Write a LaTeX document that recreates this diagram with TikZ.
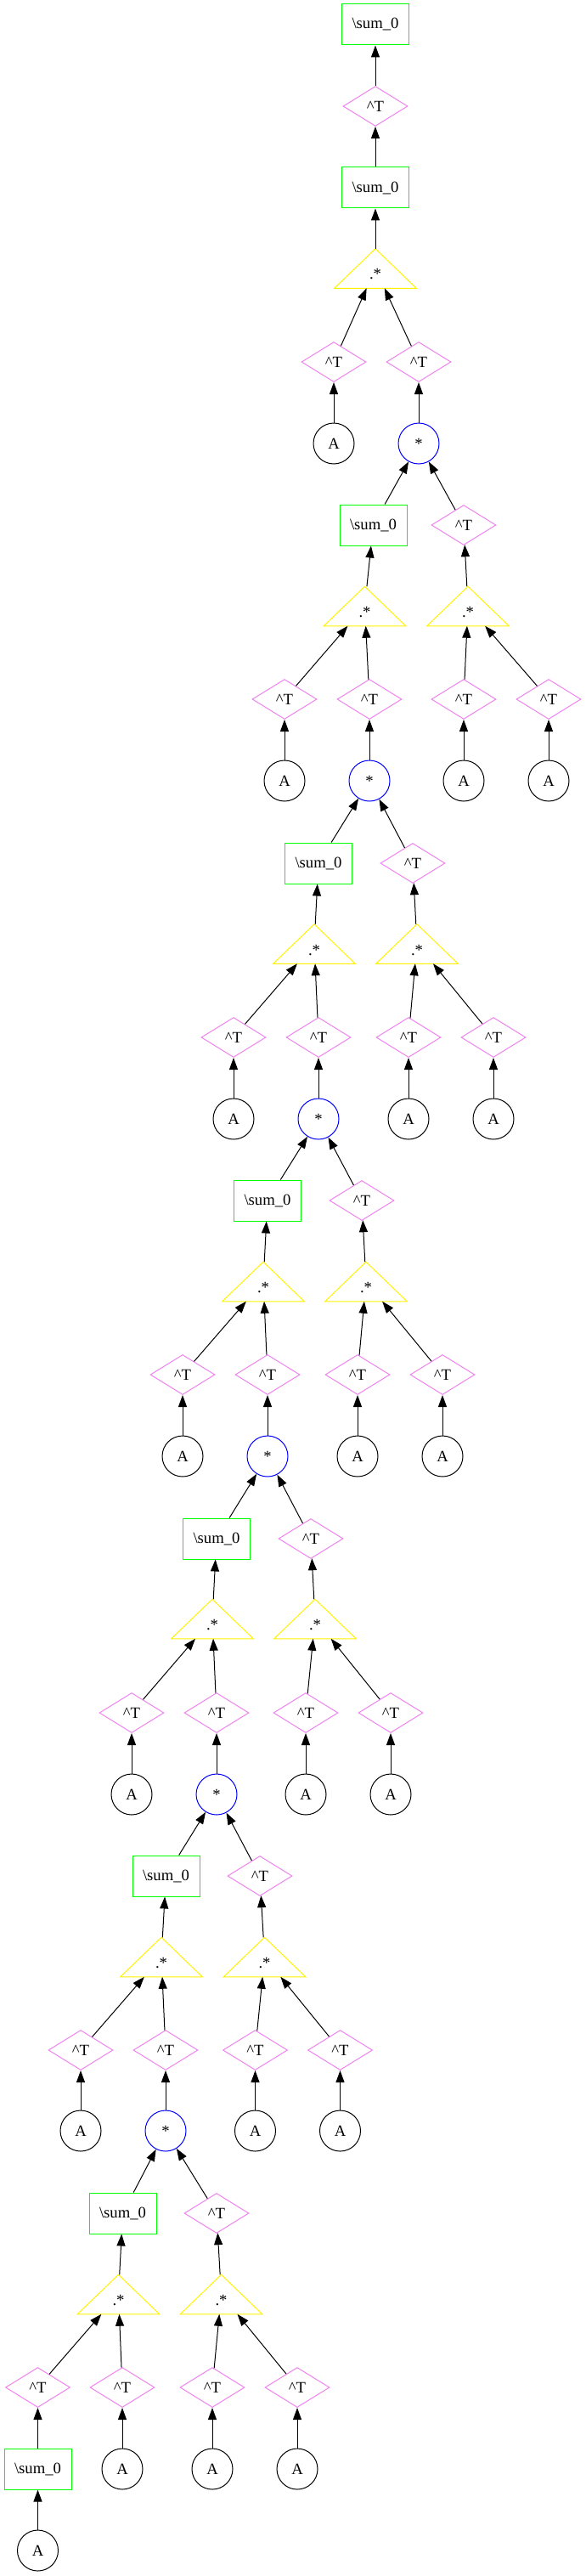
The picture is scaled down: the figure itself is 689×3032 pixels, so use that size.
\documentclass[tikz,border=0pt]{standalone}
\usepackage{fontspec}
\setmainfont{Liberation Serif}
\usetikzlibrary{arrows.meta, shapes.geometric}
\definecolor{gvviolet}{HTML}{EE82EE}

\tikzset{
  sumbox/.style={rectangle, draw=green, line width=0.75pt, inner sep=0pt, minimum width=59.25pt, minimum height=36pt},
  trans/.style={diamond, draw=gvviolet, line width=0.75pt, inner sep=0pt, minimum width=57pt, minimum height=35.25pt},
  leaf/.style={circle, draw=black, line width=0.75pt, inner sep=0pt, minimum size=36pt},
  matmul/.style={circle, draw=blue, line width=0.75pt, inner sep=0pt, minimum size=36pt},
  dotmul/.style={rectangle, inner sep=0pt, minimum width=72pt, minimum height=34.5pt, text height=19.5pt, text depth=0pt,
    append after command={\pgfextra{\draw[yellow, line width=0.75pt] (\tikzlastnode.north) -- (\tikzlastnode.south west) -- (\tikzlastnode.south east) -- cycle;}}},
  arr/.style={{Triangle[length=10.5pt, width=7.5pt]}-, line width=0.75pt, black}
}

\begin{document}
\begin{tikzpicture}[x=0.75pt, y=-0.75pt, font=\fontsize{14pt}{16pt}\selectfont]
      \useasboundingbox (0, 0) rectangle (689, 3032);

      % top of the tree
      \node[sumbox] (sum0) at (442, 29) {\textbackslash sum\_0};
      \node[trans] (tp0) at (442, 125) {\textasciicircum T};
      \node[sumbox] (sum1) at (442, 221) {\textbackslash sum\_0};
      \node[dotmul] (dm0) at (442, 316) {.*};
      \node[trans] (tp0a) at (393, 426) {\textasciicircum T};
      \node[trans] (tp0b) at (493, 426) {\textasciicircum T};
      \node[leaf] (a0) at (393, 522) {A};
      \node[matmul] (mm1) at (493, 522) {*};

      \draw[arr] (sum0) -- (tp0);
      \draw[arr] (tp0) -- (sum1);
      \draw[arr] (sum1) -- (dm0);
      \draw[arr] (dm0) -- (tp0a);
      \draw[arr] (dm0) -- (tp0b);
      \draw[arr] (tp0a) -- (a0);
      \draw[arr] (tp0b) -- (mm1);

      % block 1
      \node[sumbox] (sumL1) at (439.5, 618) {\textbackslash sum\_0};
      \node[trans] (tpR1) at (546, 618) {\textasciicircum T};
      \node[dotmul] (dmL1) at (429.5, 713.5) {.*};
      \node[dotmul] (dmR1) at (551, 713.5) {.*};
      \node[trans] (tp1a) at (335, 823) {\textasciicircum T};
      \node[trans] (tp1b) at (435, 823) {\textasciicircum T};
      \node[trans] (tp1c) at (546, 823) {\textasciicircum T};
      \node[trans] (tp1d) at (646, 823) {\textasciicircum T};
      \node[leaf] (a1a) at (335, 919) {A};
      \node[matmul] (mm2) at (435, 919) {*};
      \node[leaf] (a1c) at (546, 919) {A};
      \node[leaf] (a1d) at (646, 919) {A};

      \draw[arr] (mm1) -- (sumL1);
      \draw[arr] (mm1) -- (tpR1);
      \draw[arr] (sumL1) -- (dmL1);
      \draw[arr] (tpR1) -- (dmR1);
      \draw[arr] (dmL1) -- (tp1a);
      \draw[arr] (dmL1) -- (tp1b);
      \draw[arr] (dmR1) -- (tp1c);
      \draw[arr] (dmR1) -- (tp1d);
      \draw[arr] (tp1a) -- (a1a);
      \draw[arr] (tp1b) -- (mm2);
      \draw[arr] (tp1c) -- (a1c);
      \draw[arr] (tp1d) -- (a1d);

      % block 2
      \node[sumbox] (sumL2) at (375, 1016) {\textbackslash sum\_0};
      \node[trans] (tpR2) at (486, 1016) {\textasciicircum T};
      \node[dotmul] (dmL2) at (370, 1111) {.*};
      \node[dotmul] (dmR2) at (491, 1111) {.*};
      \node[trans] (tp2a) at (275, 1221) {\textasciicircum T};
      \node[trans] (tp2b) at (375, 1221) {\textasciicircum T};
      \node[trans] (tp2c) at (481, 1221) {\textasciicircum T};
      \node[trans] (tp2d) at (581, 1221) {\textasciicircum T};
      \node[leaf] (a2a) at (275, 1317) {A};
      \node[matmul] (mm3) at (375, 1317) {*};
      \node[leaf] (a2c) at (481, 1317) {A};
      \node[leaf] (a2d) at (581, 1317) {A};

      \draw[arr] (mm2) -- (sumL2);
      \draw[arr] (mm2) -- (tpR2);
      \draw[arr] (sumL2) -- (dmL2);
      \draw[arr] (tpR2) -- (dmR2);
      \draw[arr] (dmL2) -- (tp2a);
      \draw[arr] (dmL2) -- (tp2b);
      \draw[arr] (dmR2) -- (tp2c);
      \draw[arr] (dmR2) -- (tp2d);
      \draw[arr] (tp2a) -- (a2a);
      \draw[arr] (tp2b) -- (mm3);
      \draw[arr] (tp2c) -- (a2c);
      \draw[arr] (tp2d) -- (a2d);

      % block 3
      \node[sumbox] (sumL3) at (315, 1413) {\textbackslash sum\_0};
      \node[trans] (tpR3) at (426, 1413) {\textasciicircum T};
      \node[dotmul] (dmL3) at (310, 1508.5) {.*};
      \node[dotmul] (dmR3) at (431, 1508.5) {.*};
      \node[trans] (tp3a) at (215, 1618) {\textasciicircum T};
      \node[trans] (tp3b) at (315, 1618) {\textasciicircum T};
      \node[trans] (tp3c) at (421, 1618) {\textasciicircum T};
      \node[trans] (tp3d) at (521, 1618) {\textasciicircum T};
      \node[leaf] (a3a) at (215, 1714) {A};
      \node[matmul] (mm4) at (315, 1714) {*};
      \node[leaf] (a3c) at (421, 1714) {A};
      \node[leaf] (a3d) at (521, 1714) {A};

      \draw[arr] (mm3) -- (sumL3);
      \draw[arr] (mm3) -- (tpR3);
      \draw[arr] (sumL3) -- (dmL3);
      \draw[arr] (tpR3) -- (dmR3);
      \draw[arr] (dmL3) -- (tp3a);
      \draw[arr] (dmL3) -- (tp3b);
      \draw[arr] (dmR3) -- (tp3c);
      \draw[arr] (dmR3) -- (tp3d);
      \draw[arr] (tp3a) -- (a3a);
      \draw[arr] (tp3b) -- (mm4);
      \draw[arr] (tp3c) -- (a3c);
      \draw[arr] (tp3d) -- (a3d);

      % block 4
      \node[sumbox] (sumL4) at (255, 1811) {\textbackslash sum\_0};
      \node[trans] (tpR4) at (366, 1811) {\textasciicircum T};
      \node[dotmul] (dmL4) at (250, 1905.5) {.*};
      \node[dotmul] (dmR4) at (371, 1905.5) {.*};
      \node[trans] (tp4a) at (155, 2016) {\textasciicircum T};
      \node[trans] (tp4b) at (255, 2016) {\textasciicircum T};
      \node[trans] (tp4c) at (360, 2016) {\textasciicircum T};
      \node[trans] (tp4d) at (460, 2016) {\textasciicircum T};
      \node[leaf] (a4a) at (155, 2112) {A};
      \node[matmul] (mm5) at (255, 2112) {*};
      \node[leaf] (a4c) at (360, 2112) {A};
      \node[leaf] (a4d) at (460, 2112) {A};

      \draw[arr] (mm4) -- (sumL4);
      \draw[arr] (mm4) -- (tpR4);
      \draw[arr] (sumL4) -- (dmL4);
      \draw[arr] (tpR4) -- (dmR4);
      \draw[arr] (dmL4) -- (tp4a);
      \draw[arr] (dmL4) -- (tp4b);
      \draw[arr] (dmR4) -- (tp4c);
      \draw[arr] (dmR4) -- (tp4d);
      \draw[arr] (tp4a) -- (a4a);
      \draw[arr] (tp4b) -- (mm5);
      \draw[arr] (tp4c) -- (a4c);
      \draw[arr] (tp4d) -- (a4d);

      % block 5
      \node[sumbox] (sumL5) at (195.5, 2208) {\textbackslash sum\_0};
      \node[trans] (tpR5) at (306, 2208) {\textasciicircum T};
      \node[dotmul] (dmL5) at (190, 2303.5) {.*};
      \node[dotmul] (dmR5) at (311.5, 2303.5) {.*};
      \node[trans] (tp5a) at (95, 2413) {\textasciicircum T};
      \node[trans] (tp5b) at (195, 2413) {\textasciicircum T};
      \node[trans] (tp5c) at (300.5, 2413) {\textasciicircum T};
      \node[trans] (tp5d) at (400.5, 2413) {\textasciicircum T};
      \node[leaf] (a5a) at (95, 2508) {A};
      \node[matmul] (mm6) at (195, 2508) {*};
      \node[leaf] (a5c) at (300.5, 2508) {A};
      \node[leaf] (a5d) at (400.5, 2508) {A};

      \draw[arr] (mm5) -- (sumL5);
      \draw[arr] (mm5) -- (tpR5);
      \draw[arr] (sumL5) -- (dmL5);
      \draw[arr] (tpR5) -- (dmR5);
      \draw[arr] (dmL5) -- (tp5a);
      \draw[arr] (dmL5) -- (tp5b);
      \draw[arr] (dmR5) -- (tp5c);
      \draw[arr] (dmR5) -- (tp5d);
      \draw[arr] (tp5a) -- (a5a);
      \draw[arr] (tp5b) -- (mm6);
      \draw[arr] (tp5c) -- (a5c);
      \draw[arr] (tp5d) -- (a5d);

      % block 6, the last one
      \node[sumbox] (sumL6) at (144.5, 2605) {\textbackslash sum\_0};
      \node[trans] (tpR6) at (255, 2605) {\textasciicircum T};
      \node[dotmul] (dmL6) at (139.5, 2700.5) {.*};
      \node[dotmul] (dmR6) at (260.5, 2700.5) {.*};
      \node[trans] (tp6a) at (44.5, 2810) {\textasciicircum T};
      \node[trans] (tp6b) at (144, 2810) {\textasciicircum T};
      \node[trans] (tp6c) at (250, 2810) {\textasciicircum T};
      \node[trans] (tp6d) at (350, 2810) {\textasciicircum T};
      \node[sumbox] (sum7) at (44.5, 2906) {\textbackslash sum\_0};
      \node[leaf] (a6b) at (144, 2906) {A};
      \node[leaf] (a6c) at (250, 2906) {A};
      \node[leaf] (a6d) at (350, 2906) {A};
      \node[leaf] (a7) at (44.5, 3002) {A};

      \draw[arr] (mm6) -- (sumL6);
      \draw[arr] (mm6) -- (tpR6);
      \draw[arr] (sumL6) -- (dmL6);
      \draw[arr] (tpR6) -- (dmR6);
      \draw[arr] (dmL6) -- (tp6a);
      \draw[arr] (dmL6) -- (tp6b);
      \draw[arr] (dmR6) -- (tp6c);
      \draw[arr] (dmR6) -- (tp6d);
      \draw[arr] (tp6a) -- (sum7);
      \draw[arr] (tp6b) -- (a6b);
      \draw[arr] (tp6c) -- (a6c);
      \draw[arr] (tp6d) -- (a6d);
      \draw[arr] (sum7) -- (a7);

    \end{tikzpicture}
\end{document}
